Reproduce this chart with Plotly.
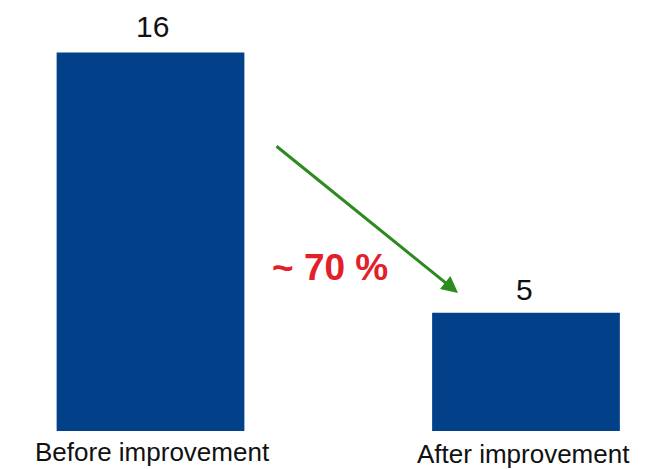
import plotly.graph_objects as go

categories = ["Before improvement", "After improvement"]
values = [16, 5]
value_labels = ["16", "5"]
reduction_label = "~ 70 %"

FONT = "Liberation Sans, Arial"

fig = go.Figure()
fig.add_trace(go.Bar(
    x=[0, 1], y=values, width=0.5,
    marker=dict(color="#02418A", line=dict(width=0)),
    hoverinfo="skip",
))

# value labels above bars
fig.add_annotation(x=0.004, y=17.12, xref="x", yref="y", text=value_labels[0], showarrow=False,
                   font=dict(family=FONT, size=30, color="#111111"))
fig.add_annotation(x=0.997, y=6.0, xref="x", yref="y", text=value_labels[1], showarrow=False,
                   font=dict(family=FONT, size=30, color="#111111"))

# category labels (at slightly different heights as in the reference)
fig.add_annotation(x=0.005, y=-0.87, xref="x", yref="y", text=categories[0], showarrow=False,
                   font=dict(family=FONT, size=26, color="#111111"))
fig.add_annotation(x=0.993, y=-0.97, xref="x", yref="y", text=categories[1], showarrow=False,
                   font=dict(family=FONT, size=26, color="#111111"))

# arrow
fig.add_annotation(x=0.819, y=5.84, ax=0.3316, ay=12.09, xref="x", yref="y", axref="x", ayref="y",
                   text="", showarrow=True, arrowhead=2, arrowsize=1.1, arrowwidth=3,
                   arrowcolor="#2C8A1E")
fig.add_annotation(x=0.478, y=6.93, xref="x", yref="y", text="<b>" + reduction_label + "</b>",
                   showarrow=False,
                   font=dict(family=FONT, size=37, color="#E3202A"))

fig.update_layout(
    width=651, height=469,
    margin=dict(l=0, r=0, t=0, b=0),
    paper_bgcolor="white", plot_bgcolor="white",
    showlegend=False,
    xaxis=dict(range=[-0.3795, 1.3542], visible=False, fixedrange=True),
    yaxis=dict(range=[-1.945, 17.886], visible=False, fixedrange=True),
)
fig.write_html("out.html")
